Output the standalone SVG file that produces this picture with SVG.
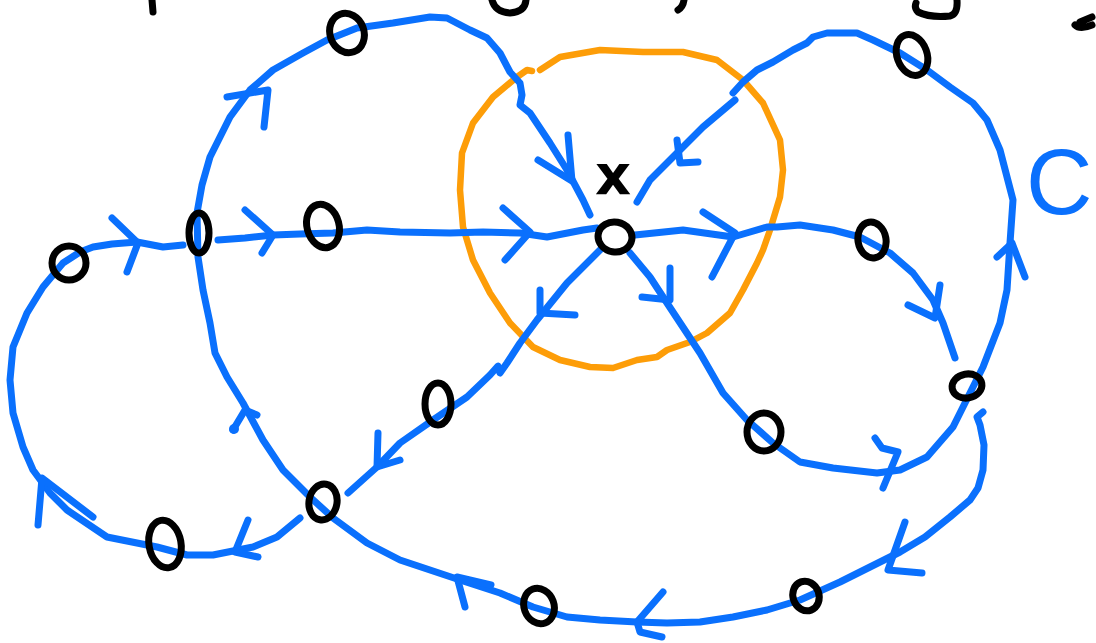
<svg xmlns="http://www.w3.org/2000/svg" width="1096" height="643" viewBox="0 0 1096 643">
<style>
.b{fill:none;stroke:#0a70fd;stroke-width:7;stroke-linecap:round;stroke-linejoin:round}
.o{fill:none;stroke:#fd9d08;stroke-width:6.5;stroke-linecap:round;stroke-linejoin:round}
.k{fill:none;stroke:#000;stroke-width:7;stroke-linecap:round;stroke-linejoin:round}
.lbl{font-family:"DejaVu Sans",sans-serif;font-weight:bold}
</style>
<rect width="1096" height="643" fill="#fff"/>
<g id="region">
<path class="o" d="M540,70 L560,57 L600,50 L643,52 L683,52 L717,60 L743,80 L763,103 L780,140 L783,170 L780,197 L770,230 L763,250 L757,263 L743,290 L730,313 L707,333 L690,342 L667,350 L657,357 L637,360 L613,368 L590,367 L560,360 L533,347 L510,323 L490,293 L473,260 L463,227 L460,190 L462,153 L473,123 L493,97 L517,77 L527,70 L532,71"/>
</g>
<g id="connectors">
<path class="b" d="M590,215 L583,200 L567,170 L550,143 L530,113 L520,105 L522,95 L520,83 L510,72 L500,53 L487,38 L470,30 L447,18 L430,17 L393,23 L357,28 L327,40 L303,53 L273,70 L250,90 L230,117 L210,157 L202,185 L197,213 L198,257 L203,290 L210,323 L215,353 L227,377 L243,403 L263,440 L283,470 L310,497 L333,518 L367,543 L400,560 L430,570 L460,580 L500,593 L533,607 L567,617 L600,620 L637,622 L667,623 L700,622 L733,617 L767,610 L800,600 L840,582 L870,567 L900,552 L925,537 L950,517 L970,500 L978,488 L983,470 L984,445 L980,425 L977,417 L983,412"/>
<path class="b" d="M183,245 L163,247 L137,242 L112,244 L93,247 L80,252 L63,263 L43,287 L27,313 L13,347 L10,380 L13,413 L23,447 L33,470 L50,493 L67,510 L107,537 L157,547 L187,555 L213,555 L253,547 L277,537 L300,518"/>
<path class="b" d="M218,240 L245,238 L273,235 L300,234 L333,233 L367,230 L400,232 L450,233 L483,232 L520,233 L547,237 L583,230 L597,228"/>
<path class="b" d="M635,235 L683,230 L733,237 L767,227 L777,227 L800,225 L833,230 L860,237 L890,253 L913,273 L933,300 L943,323 L955,358"/>
<path class="b" d="M630,253 L650,277 L667,303 L700,353 L723,393 L747,420 L773,443 L800,462 L833,468 L877,473 L900,470 L927,457 L953,427 L970,393 L983,367 L1000,323 L1007,290 L1010,243 L1013,200 L1000,150 L987,120 L973,103 L950,87 L927,70 L900,53 L873,40 L857,33 L827,33 L813,37 L807,43 L793,50 L773,62 L757,70 L743,82 L733,93"/>
<path class="b" d="M735,100 L703,127 L677,153 L650,180 L637,202"/>
<path class="b" d="M600,250 L567,283 L537,320 L520,343 L507,363 L500,373 L498,366 L490,375 L467,397 L433,420 L400,443 L377,467 L348,493"/>
<g id="arrowheads">
<path class="b" d="M227,97 L268,90 L264,127"/>
<path class="b" d="M233,430 L245,410 L257,415"/>
<circle cx="234" cy="429" r="5" fill="#0a70fd"/>
<path class="b" d="M491,585 L457,577 L465,607"/>
<path class="b" d="M663,592 L637,622 L640,632 L662,637"/>
<path class="b" d="M905,522 L888,570 L922,573"/>
<path class="b" d="M538,160 L572,181 L568,135"/>
<path class="b" d="M112,218 L138,243 L127,272"/>
<path class="b" d="M38,525 L42,478 L93,517"/>
<path class="b" d="M248,520 L235,552 L258,557"/>
<path class="b" d="M245,210 L273,235 L262,253"/>
<path class="b" d="M503,208 L530,232 L505,260"/>
<path class="b" d="M703,212 L735,233 L712,277"/>
<path class="b" d="M908,305 L935,318 L940,285"/>
<path class="b" d="M642,297 L670,300 L670,268"/>
<path class="b" d="M875,438 L882,448 L898,452 L883,488"/>
<path class="b" d="M997,257 L1012,243 L1025,277"/>
<path class="b" d="M677,140 L680,163 L698,162"/>
<path class="b" d="M540,290 L540,313 L575,315"/>
<path class="b" d="M378,433 L377,467 L400,460"/>
</g>
</g>
<g id="n1"><ellipse class="k" cx="347" cy="33" rx="17" ry="20" transform="rotate(-20 347 33)"/></g>
<g id="n2"><ellipse class="k" cx="912" cy="55" rx="15" ry="21" transform="rotate(-20 912 55)"/></g>
<g id="n3"><ellipse class="k" cx="615" cy="237" rx="17" ry="15" transform="rotate(10 615 237)"/></g>
<g id="n4"><ellipse class="k" cx="199" cy="233" rx="10" ry="20"/></g>
<g id="n5"><ellipse class="k" cx="323" cy="226" rx="16" ry="22" transform="rotate(-15 323 226)"/></g>
<g id="n6"><ellipse class="k" cx="69" cy="263" rx="17" ry="17"/></g>
<g id="n7"><ellipse class="k" cx="165" cy="544" rx="16" ry="24" transform="rotate(-10 165 544)"/></g>
<g id="n8"><ellipse class="k" cx="323" cy="502" rx="14" ry="18" transform="rotate(10 323 502)"/></g>
<g id="n9"><ellipse class="k" cx="438" cy="404" rx="13" ry="21"/></g>
<g id="n10"><ellipse class="k" cx="872" cy="240" rx="14" ry="18" transform="rotate(-10 872 240)"/></g>
<g id="n11"><ellipse class="k" cx="967" cy="386" rx="15" ry="12" transform="rotate(-10 967 386)"/></g>
<g id="n12"><ellipse class="k" cx="764" cy="432" rx="17" ry="19"/></g>
<g id="n13"><ellipse class="k" cx="539" cy="606" rx="15" ry="18" transform="rotate(-20 539 606)"/></g>
<g id="n14"><ellipse class="k" cx="806" cy="596" rx="13" ry="15" transform="rotate(-20 806 596)"/></g>
<g id="marks">
<path class="k" d="M152,0 L153,12"/>
<path class="k" d="M492,0 Q495,12 510,13 Q525,12 526,0"/>
<path class="k" d="M684,0 Q683,7 678,10"/>
<path class="k" d="M957,0 Q958,14 950,16 Q930,18 918,12 Q914,8 916,3"/>
<path class="k" d="M1075,25 Q1080,30 1092,25 M1080,22 L1092,17"/>
</g>
<text class="lbl" x="613" y="194" font-size="56" text-anchor="middle" fill="#000">x</text>
<text x="1026" y="214" font-family="Liberation Sans, sans-serif" font-size="92" fill="#0a70fd">C</text>
</svg>
